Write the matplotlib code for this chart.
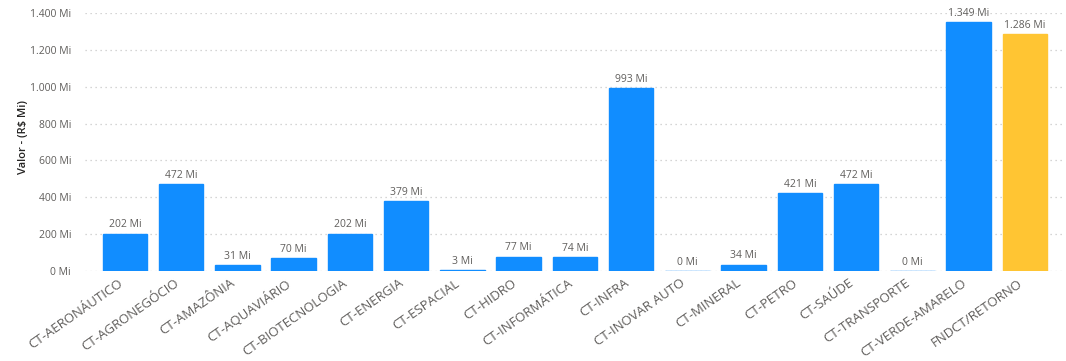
import matplotlib
matplotlib.use("Agg")
import matplotlib.pyplot as plt
from matplotlib.ticker import FuncFormatter

categories = ["CT-AERONÁUTICO", "CT-AGRONEGÓCIO", "CT-AMAZÔNIA", "CT-AQUAVIÁRIO",
              "CT-BIOTECNOLOGIA", "CT-ENERGIA", "CT-ESPACIAL", "CT-HIDRO",
              "CT-INFORMÁTICA", "CT-INFRA", "CT-INOVAR AUTO", "CT-MINERAL",
              "CT-PETRO", "CT-SAÚDE", "CT-TRANSPORTE", "CT-VERDE-AMARELO",
              "FNDCT/RETORNO"]
values = [202, 472, 31, 70, 202, 379, 3, 77, 74, 993, 0.4, 34, 421, 472, 0.4, 1349, 1286]
highlight = ["FNDCT/RETORNO"]
yticks = [0, 200, 400, 600, 800, 1000, 1200, 1400]

BLUE = "#118DFF"
YELLOW = "#FFC533"
TXT = "#605E5C"

plt.rcParams['font.family'] = ['Open Sans', 'DejaVu Sans']

def fmt(v):
    return f"{v:,.0f}".replace(",", ".") + " Mi"

fig = plt.figure(figsize=(10.66, 3.61), dpi=100)
ax = fig.add_axes([85/1066, 90/361, 977/1066, 258/361])

x = list(range(len(categories)))
colors = [YELLOW if c in highlight else BLUE for c in categories]
ax.bar(x, values, width=0.79, color=colors, edgecolor=colors, linewidth=1.0, zorder=3)

for xi, v in zip(x, values):
    ax.text(xi, v + 18, fmt(v), ha="center", va="bottom", fontsize=7.5,
            color=TXT, clip_on=False)

ax.set_ylim(0, 1400)
ax.set_xlim(-0.71, len(categories) - 1 + 0.66)
ax.set_yticks(yticks)
ax.yaxis.set_major_formatter(FuncFormatter(lambda v, p: fmt(v)))
ax.grid(axis="y", color="#C8C8C8", linestyle=(0, (1, 3)), linewidth=0.9, zorder=0)
for s in ax.spines.values():
    s.set_visible(False)
ax.tick_params(axis="both", length=0, colors=TXT, labelsize=7.5)
ax.tick_params(axis="y", pad=10)
ax.set_xticks(x)
ax.set_xticklabels(categories, rotation=35, ha="right", va="top",
                   rotation_mode="default", fontsize=9.5, color=TXT)
ax.tick_params(axis="x", pad=4)
ax.set_ylabel("Valor - (R$ Mi)", fontsize=8, color="#252423", fontweight="semibold")
ax.yaxis.set_label_coords(-0.057, 0.52)

fig.savefig("out.png", dpi=100)
